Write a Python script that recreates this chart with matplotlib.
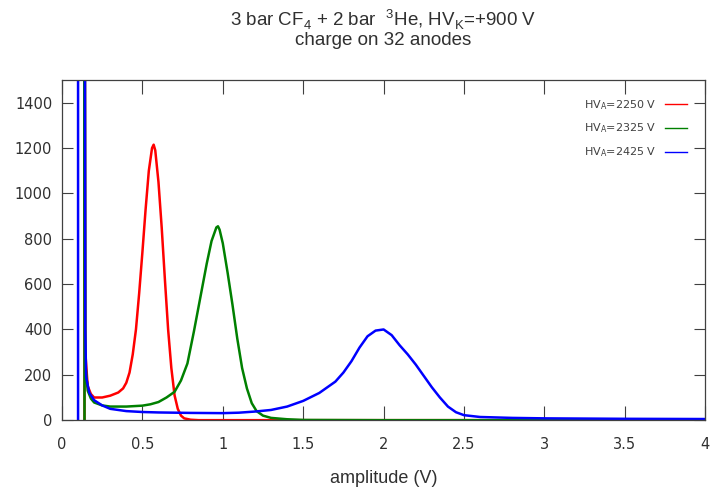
import matplotlib
matplotlib.use("Agg")
import matplotlib.pyplot as plt

# amplitude spectra, three anode voltages
red_x = [0.14, 0.14, 0.145, 0.16, 0.18, 0.20, 0.25, 0.30, 0.35, 0.38, 0.40, 0.42, 0.44, 0.46, 0.48,
         0.50, 0.52, 0.54, 0.56, 0.57, 0.58, 0.60, 0.62, 0.64, 0.66, 0.68, 0.70, 0.72,
         0.74, 0.76, 0.80, 0.85, 1.0, 4.0]
red_y = [0, 3000, 300, 150, 115, 100, 100, 108, 122, 140, 165, 210, 290, 400, 560,
         740, 930, 1100, 1200, 1215, 1190, 1050, 850, 620, 400, 230, 110, 50,
         20, 8, 2, 0, 0, 0]

green_x = [0.14, 0.14, 0.145, 0.16, 0.18, 0.20, 0.25, 0.30, 0.40, 0.50, 0.55, 0.60, 0.65, 0.70,
           0.72, 0.74, 0.78, 0.82, 0.86, 0.90, 0.93, 0.96, 0.97, 0.98, 1.00, 1.03, 1.06,
           1.09, 1.12, 1.15, 1.18, 1.21, 1.25, 1.30, 1.40, 1.50, 2.0, 4.0]
green_y = [0, 3000, 250, 130, 95, 78, 65, 60, 60, 64, 70, 80, 100, 125,
           150, 175, 250, 390, 540, 690, 790, 850, 855, 840, 780, 650, 510,
           360, 230, 140, 75, 40, 20, 10, 4, 1, 0, 0]

blue_x = [0.10, 0.10, 0.14, 0.145, 0.15, 0.17, 0.20, 0.25, 0.30, 0.40, 0.50, 0.60, 0.80,
          1.00, 1.10, 1.20, 1.30, 1.40, 1.50, 1.60, 1.70, 1.75, 1.80, 1.85, 1.90,
          1.95, 2.00, 2.05, 2.10, 2.15, 2.20, 2.25, 2.30, 2.35, 2.40, 2.45, 2.50,
          2.60, 2.80, 3.0, 3.5, 4.0]
blue_y = [0, 3000, 3000, 400, 190, 120, 88, 65, 50, 40, 36, 34, 32,
          31, 33, 38, 45, 60, 85, 120, 170, 210, 260, 320, 370,
          395, 400, 375, 330, 290, 245, 195, 145, 100, 60, 35, 22,
          14, 10, 8, 6, 5]

labels = ["HV$_\\mathregular{A}$=2250 V", "HV$_\\mathregular{A}$=2325 V",
          "HV$_\\mathregular{A}$=2425 V"]
colors = ["#ff0000", "#008000", "#0000ff"]

plt.rcParams["font.family"] = ["Liberation Sans", "DejaVu Sans"]

fig = plt.figure(figsize=(7.1, 4.88), dpi=100)
ax = fig.add_axes([0.0873, 0.139, 0.906, 0.697])

for xs, ys, c, lab in zip([red_x, green_x, blue_x], [red_y, green_y, blue_y], colors, labels):
    ax.plot(xs, ys, color=c, lw=1.8, label=lab)

ax.set_xlim(0, 4)
ax.set_ylim(0, 1500)
ax.set_xticks([0, 0.5, 1, 1.5, 2, 2.5, 3, 3.5, 4])
ax.set_xticklabels(["0", "0.5", "1", "1.5", "2", "2.5", "3", "3.5", "4"])
ax.set_yticks(range(0, 1401, 200))
ax.tick_params(direction="in", top=True, right=True, width=0.8,
               colors="#404040", labelcolor="#303030")
ax.tick_params(axis="x", length=10, pad=12)
ax.tick_params(axis="y", length=8, pad=7)
for lbl in ax.get_xticklabels() + ax.get_yticklabels():
    lbl.set_fontfamily("DejaVu Sans")
    lbl.set_fontsize(10.5)
for s in ax.spines.values():
    s.set_color("#404040")
    s.set_linewidth(0.9)

ax.set_xlabel("amplitude (V)", fontsize=13, color="#303030", labelpad=13)
fig.text(0.539, 0.959, "3 bar CF$_\\mathregular{4}$ + 2 bar  $^\\mathregular{3}$He, HV$_\\mathregular{K}$=+900 V",
         ha="center", va="center", fontsize=13.5, color="#303030")
fig.text(0.539, 0.916, "charge on 32 anodes", ha="center", va="center",
         fontsize=13.5, color="#303030")

leg = ax.legend(loc="upper right", frameon=False, markerfirst=False,
                prop={"family": "DejaVu Sans", "size": 8},
                handlelength=2.0, labelspacing=0.9, borderaxespad=1.2)
for t in leg.get_texts():
    t.set_color("#404040")
for h in leg.get_lines():
    h.set_linewidth(1.0)

fig.savefig("out.png", dpi=100)
